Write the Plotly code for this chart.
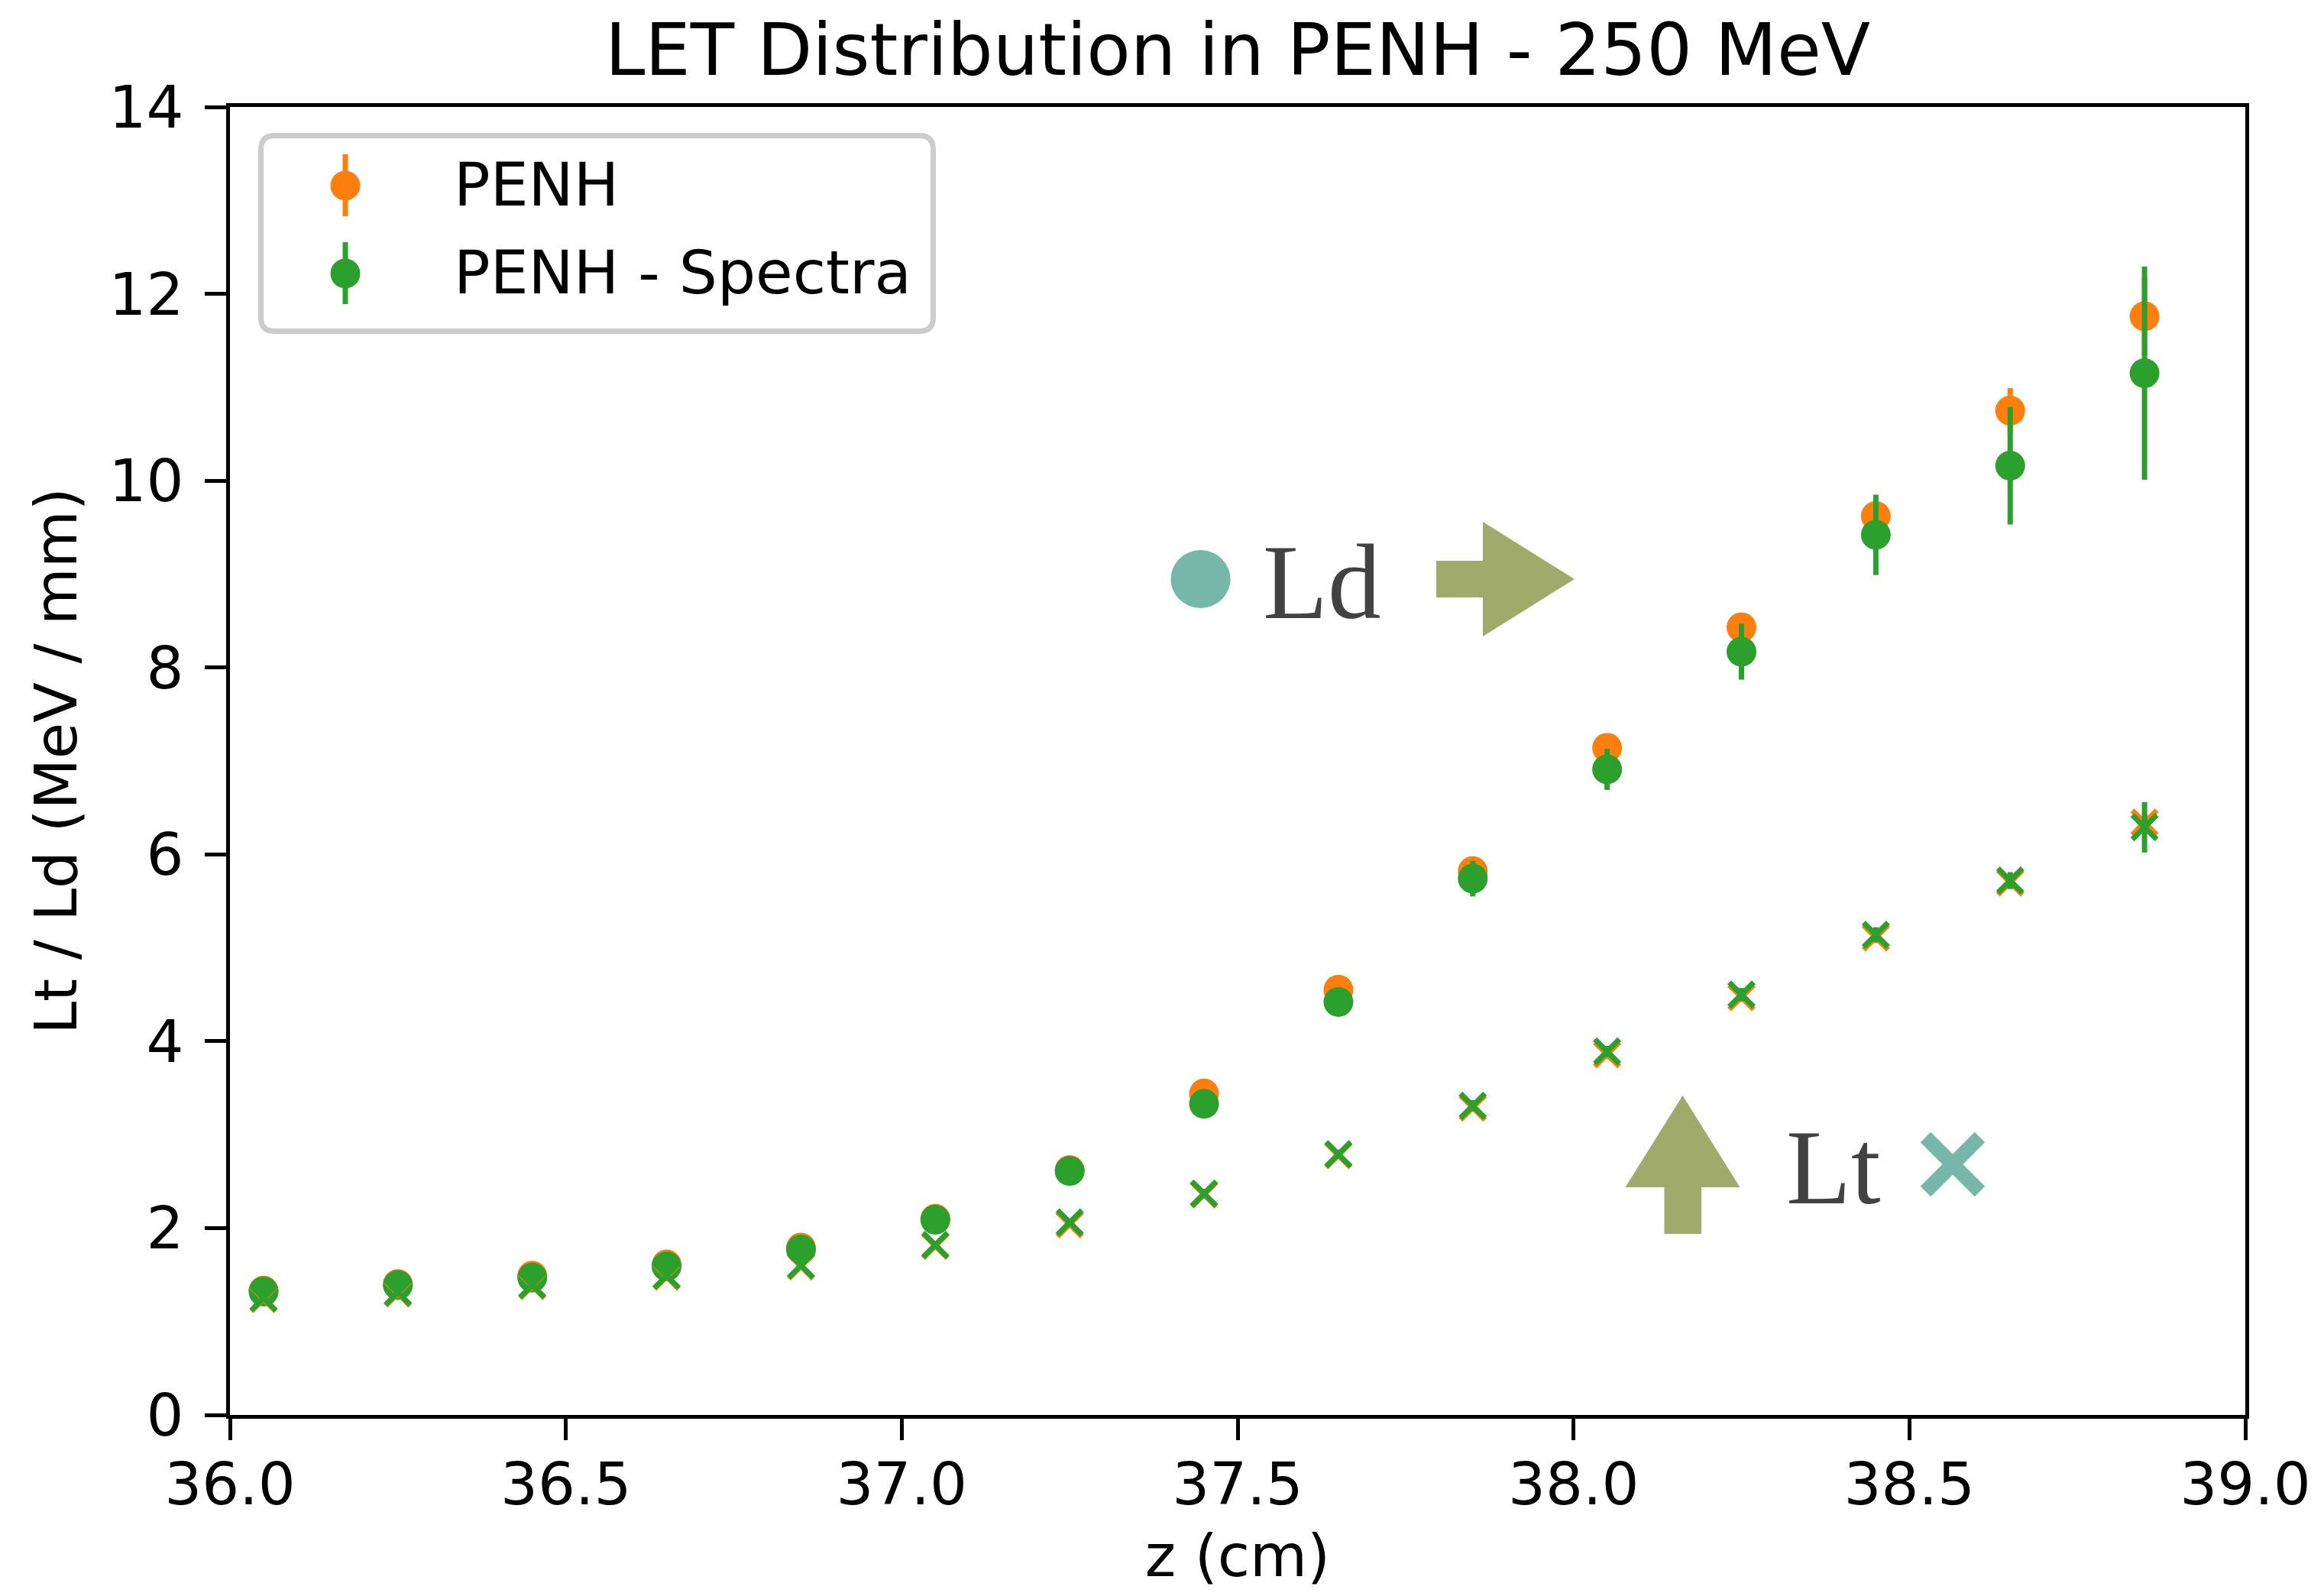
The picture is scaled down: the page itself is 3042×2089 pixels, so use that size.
import plotly.graph_objects as go

# Depth positions (cm)
z_cm = [36.05, 36.25, 36.45, 36.65, 36.85, 37.05, 37.25, 37.45,
        37.65, 37.85, 38.05, 38.25, 38.45, 38.65, 38.85]

# PENH: dose-averaged (Ld) and track-averaged (Lt) LET, MeV/mm
ld_penh = [1.33, 1.40, 1.49, 1.61, 1.79, 2.10, 2.62, 3.44,
           4.55, 5.82, 7.14, 8.43, 9.62, 10.75, 11.76]
ld_penh_err = [0.02, 0.02, 0.03, 0.03, 0.04, 0.05, 0.06, 0.07,
               0.08, 0.10, 0.10, 0.12, 0.15, 0.24, 0.42]
lt_penh = [1.24, 1.30, 1.38, 1.48, 1.59, 1.81, 2.04, 2.36,
           2.78, 3.29, 3.86, 4.47, 5.11, 5.70, 6.34]
lt_penh_err = [0.01, 0.01, 0.01, 0.02, 0.02, 0.02, 0.03, 0.03,
               0.04, 0.04, 0.05, 0.05, 0.06, 0.07, 0.10]

# PENH - Spectra
ld_spec = [1.32, 1.39, 1.47, 1.59, 1.77, 2.09, 2.61, 3.33,
           4.42, 5.74, 6.91, 8.17, 9.42, 10.16, 11.15]
ld_spec_err = [0.03, 0.03, 0.04, 0.05, 0.06, 0.08, 0.10, 0.12,
               0.15, 0.19, 0.22, 0.30, 0.43, 0.63, 1.14]
lt_spec = [1.25, 1.31, 1.39, 1.49, 1.60, 1.82, 2.06, 2.37,
           2.79, 3.31, 3.89, 4.50, 5.14, 5.72, 6.29]
lt_spec_err = [0.02, 0.02, 0.02, 0.03, 0.03, 0.03, 0.04, 0.05,
               0.05, 0.06, 0.06, 0.07, 0.08, 0.09, 0.27]

x_ticks = [36.0, 36.5, 37.0, 37.5, 38.0, 38.5, 39.0]
y_ticks = [0, 2, 4, 6, 8, 10, 12, 14]

ORANGE = "#ff7f0e"
GREEN = "#2ca02c"
TEAL = "#76b7aa"
OLIVE = "#a0aa6a"
INK = "#424242"
FONT = "DejaVu Sans"
SERIF = "Liberation Serif"

W, H = 3042, 2089
PL, PR, PT, PB = 301, 2939, 140, 1852   # plot-area edges in px


def fx(px):
    return (px - PL) / (PR - PL)


def fy(py):
    return (PB - py) / (PB - PT)


def poly(points):
    return "M " + " L ".join(f"{fx(x):.5f},{fy(y):.5f}" for x, y in points) + " Z"


def rounded_rect(x0, y0, x1, y1, r):
    p = lambda x, y: f"{fx(x):.5f},{fy(y):.5f}"
    return (f"M {p(x0 + r, y0)} L {p(x1 - r, y0)} Q {p(x1, y0)} {p(x1, y0 + r)} "
            f"L {p(x1, y1 - r)} Q {p(x1, y1)} {p(x1 - r, y1)} "
            f"L {p(x0 + r, y1)} Q {p(x0, y1)} {p(x0, y1 - r)} "
            f"L {p(x0, y0 + r)} Q {p(x0, y0)} {p(x0 + r, y0)} Z")


def dot_marker(color):
    return dict(symbol="circle", size=39, color=color, line=dict(width=0))


def cross_marker(color):
    return dict(symbol="x-thin", size=32, color=color, line=dict(width=7, color=color))


def err(values, color):
    return dict(type="data", array=values, color=color, thickness=7, width=0, visible=True)


fig = go.Figure()
fig.add_trace(go.Scatter(x=z_cm, y=ld_penh, mode="markers", name="PENH",
                         marker=dot_marker(ORANGE), error_y=err(ld_penh_err, ORANGE),
                         showlegend=False))
fig.add_trace(go.Scatter(x=z_cm, y=ld_spec, mode="markers", name="PENH - Spectra",
                         marker=dot_marker(GREEN), error_y=err(ld_spec_err, GREEN),
                         showlegend=False))
fig.add_trace(go.Scatter(x=z_cm, y=lt_penh, mode="markers", name="PENH (Lt)",
                         marker=cross_marker(ORANGE), error_y=err(lt_penh_err, ORANGE),
                         showlegend=False))
fig.add_trace(go.Scatter(x=z_cm, y=lt_spec, mode="markers", name="PENH - Spectra (Lt)",
                         marker=cross_marker(GREEN), error_y=err(lt_spec_err, GREEN),
                         showlegend=False))

shapes = []
annotations = []

# Legend box with rounded corners
shapes.append(dict(type="path", xref="paper", yref="paper", layer="above",
                   path=rounded_rect(341.5, 177.5, 1221.5, 433.5, 18),
                   fillcolor="white", line=dict(color="#cccccc", width=7)))
for label, color, cy in [("PENH", ORANGE, 243), ("PENH - Spectra", GREEN, 358)]:
    shapes.append(dict(type="line", xref="paper", yref="paper", layer="above",
                       x0=fx(452), x1=fx(452), y0=fy(cy - 41), y1=fy(cy + 40),
                       line=dict(color=color, width=7)))
    shapes.append(dict(type="circle", xref="paper", yref="paper", layer="above",
                       x0=fx(452 - 19.5), x1=fx(452 + 19.5), y0=fy(cy + 19.5), y1=fy(cy - 19.5),
                       fillcolor=color, line=dict(width=0)))
    annotations.append(dict(text=label, xref="paper", yref="paper", x=fx(592), y=fy(cy - 1),
                            xanchor="left", yanchor="middle", showarrow=False,
                            font=dict(family=FONT, size=79, color="black")))

# "Ld" key: teal dot, label and arrow pointing right
shapes.append(dict(type="circle", xref="paper", yref="paper", layer="above",
                   x0=fx(1532.5), x1=fx(1610.5), y0=fy(796), y1=fy(720),
                   fillcolor=TEAL, line=dict(width=0)))
annotations.append(dict(text="Ld", xref="paper", yref="paper", x=fx(1651), y=fy(762),
                        xanchor="left", yanchor="middle", showarrow=False,
                        font=dict(family=SERIF, size=139, color=INK)))
shapes.append(dict(type="path", xref="paper", yref="paper", layer="above",
                   path=poly([(1880, 734), (1941, 734), (1941, 683), (2061, 758),
                              (1941, 833), (1941, 782), (1880, 782)]),
                   fillcolor=OLIVE, line=dict(width=0)))

# "Lt" key: arrow pointing up, label and teal cross
shapes.append(dict(type="path", xref="paper", yref="paper", layer="above",
                   path=poly([(2202.5, 1434), (2277.5, 1554), (2227, 1554), (2227, 1615),
                              (2178.5, 1615), (2178.5, 1554), (2127.5, 1554)]),
                   fillcolor=OLIVE, line=dict(width=0)))
annotations.append(dict(text="Lt", xref="paper", yref="paper", x=fx(2336), y=fy(1528),
                        xanchor="left", yanchor="middle", showarrow=False,
                        font=dict(family=SERIF, size=139, color=INK)))
for (xa, ya, xb, yb) in [(2520.5, 1488.5, 2591.5, 1559.5), (2520.5, 1559.5, 2591.5, 1488.5)]:
    shapes.append(dict(type="line", xref="paper", yref="paper", layer="above",
                       x0=fx(xa), y0=fy(ya), x1=fx(xb), y1=fy(yb),
                       line=dict(color=TEAL, width=19)))

axis_common = dict(
    showline=True, linewidth=5, linecolor="black", mirror=True,
    ticks="outside", ticklen=28, tickwidth=5, tickcolor="black",
    showgrid=False, zeroline=False, automargin=False,
    tickfont=dict(family=FONT, size=77, color="black"),
)

fig.update_layout(
    width=W, height=H,
    margin=dict(l=PL, r=W - PR, t=PT, b=H - PB, pad=0),
    paper_bgcolor="white", plot_bgcolor="white",
    font=dict(family=FONT, size=77, color="black"),
    title=dict(text="LET Distribution in PENH - 250 MeV", x=0.5, xref="paper",
               xanchor="center", y=1, yref="paper", yanchor="bottom",
               pad=dict(b=42), font=dict(family=FONT, size=94, color="black")),
    xaxis=dict(range=[36.0, 39.0], tickvals=x_ticks, tickformat=".1f",
               ticklabelstandoff=-8,
               title=dict(text="z (cm)", standoff=24,
                          font=dict(family=FONT, size=77, color="black")),
               **axis_common),
    yaxis=dict(range=[0, 14], tickvals=y_ticks, ticklabelstandoff=12,
               title=dict(text="Lt / Ld (MeV / mm)", standoff=18,
                          font=dict(family=FONT, size=77, color="black")),
               **axis_common),
    shapes=shapes,
    annotations=annotations,
    showlegend=False,
)

fig.write_html("out.html")
